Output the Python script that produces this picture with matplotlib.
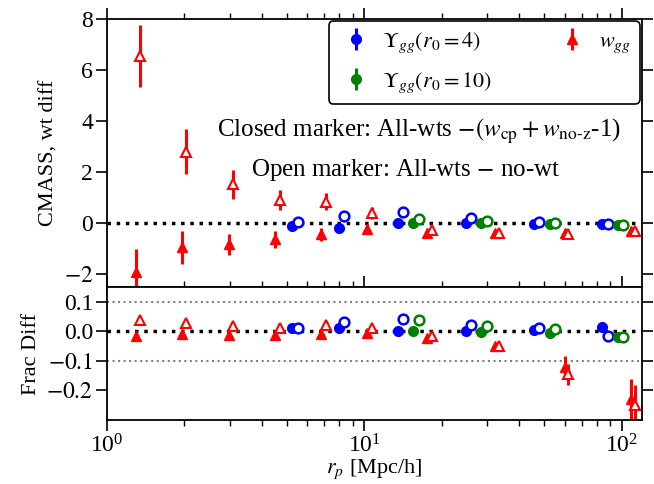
import matplotlib
matplotlib.use('Agg')
import matplotlib.pyplot as plt
from matplotlib.ticker import LogLocator, NullFormatter

plt.rcParams['font.family'] = ['Liberation Serif', 'DejaVu Serif']
plt.rcParams['mathtext.fontset'] = 'stix'

# w_gg: closed (All-wts - (wcp+wnoz-1)) and open (All-wts - no-wt)
wgg_rp_c = [1.30, 1.96, 2.98, 4.49, 6.78, 10.2, 17.6, 32.1, 60.0, 109.0]
wgg_rp_o = [1.34, 2.03, 3.08, 4.70, 7.10, 10.7, 18.3, 33.3, 62.0, 113.0]
wgg_c = [-1.9, -0.94, -0.83, -0.63, -0.43, -0.23, -0.38, -0.40, -0.38, -0.30]
wgg_c_err = [0.9, 0.65, 0.40, 0.33, 0.25, 0.20, 0.10, 0.06, 0.06, 0.05]
wgg_o = [6.55, 2.8, 1.53, 0.90, 0.85, 0.40, -0.28, -0.40, -0.42, -0.30]
wgg_o_err = [1.2, 0.88, 0.57, 0.40, 0.35, 0.25, 0.12, 0.08, 0.06, 0.05]
wgg_frac_c = [-0.017, -0.01, -0.013, -0.013, -0.01, -0.007, -0.024, -0.05, -0.12, -0.23]
wgg_frac_c_err = [0.004, 0.004, 0.004, 0.004, 0.004, 0.004, 0.005, 0.008, 0.035, 0.07]
wgg_frac_o = [0.04, 0.027, 0.017, 0.013, 0.02, 0.01, -0.017, -0.05, -0.145, -0.25]
wgg_frac_o_err = [0.004, 0.004, 0.004, 0.004, 0.004, 0.004, 0.005, 0.008, 0.035, 0.07]

# Upsilon_gg (r0=4)
u4_rp_c = [5.23, 7.95, 13.5, 24.8, 45.5, 83.6]
u4_rp_o = [5.52, 8.33, 14.2, 26.1, 47.9, 88.3]
u4_c = [-0.12, -0.20, 0.0, 0.0, -0.03, -0.03]
u4_o = [0.05, 0.30, 0.45, 0.20, 0.05, -0.05]
u4_frac_c = [0.01, 0.013, 0.0, 0.0, 0.003, 0.014]
u4_frac_o = [0.01, 0.03, 0.043, 0.023, 0.013, -0.017]

# Upsilon_gg (r0=10)
u10_rp_c = [15.5, 28.3, 52.5, 96.5]
u10_rp_o = [16.3, 29.9, 55.0, 101.0]
u10_c = [0.0, 0.0, -0.03, -0.06]
u10_o = [0.15, 0.07, 0.02, -0.06]
u10_frac_c = [0.0, -0.003, -0.007, -0.02]
u10_frac_o = [0.04, 0.017, 0.007, -0.02]

fig = plt.figure(figsize=(6.54, 4.84), dpi=100)
ax1 = fig.add_axes([0.1636, 0.407, 0.8180, 0.5537])
ax2 = fig.add_axes([0.1636, 0.1322, 0.8180, 0.2748], sharex=ax1)

ms = 7
kw = dict(ls='none', elinewidth=2.2, capsize=0)

# top panel
ax1.errorbar(u4_rp_c, u4_c, yerr=0.01, marker='o', color='blue', ms=ms, label=r'$\Upsilon_{gg}(r_0=4)$', **kw)
ax1.errorbar(u4_rp_o, u4_o, yerr=0.01, marker='o', color='blue', ms=ms, mfc='white', mew=1.8, **kw)
ax1.errorbar(u10_rp_c, u10_c, yerr=0.01, marker='o', color='green', ms=ms, label=r'$\Upsilon_{gg}(r_0=10)$', **kw)
ax1.errorbar(u10_rp_o, u10_o, yerr=0.01, marker='o', color='green', ms=ms, mfc='white', mew=1.8, **kw)
ax1.errorbar(wgg_rp_c, wgg_c, yerr=wgg_c_err, marker='^', color='red', ms=ms, label=r'$w_{gg}$', **kw)
ax1.errorbar(wgg_rp_o, wgg_o, yerr=wgg_o_err, marker='^', color='red', ms=ms, mfc='white', mew=1.5, **kw)
ax1.axhline(0, color='black', ls=':', lw=2.5, zorder=0)

ax1.set_xscale('log')
ax1.set_xlim(1, 120)
ax1.set_ylim(-2.5, 8)
ax1.set_yticks([-2, 0, 2, 4, 6, 8])
ax1.set_yticklabels([r'$-2$', '0', '2', '4', '6', '8'])
ax1.set_ylabel('CMASS, wt diff', fontsize=16)
ax1.tick_params(labelbottom=False)

ax1.text(0.583, 0.582, r'Closed marker: All-wts $-(w_{\rm cp}+w_{\rm no\text{-}z}$-1)',
         transform=ax1.transAxes, ha='center', va='center', fontsize=18)
ax1.text(0.559, 0.437, r'Open marker: All-wts $-$ no-wt',
         transform=ax1.transAxes, ha='center', va='center', fontsize=18)

leg = ax1.legend(loc='upper right', ncol=2, fontsize=16, frameon=True, fancybox=True,
                 edgecolor='black', framealpha=1, handletextpad=0.4, columnspacing=2.8,
                 borderaxespad=0.1, handlelength=1.6, labelspacing=0.7)
leg.get_frame().set_linewidth(1.2)

# bottom panel
ax2.errorbar(u4_rp_c, u4_frac_c, yerr=0.001, marker='o', color='blue', ms=ms, **kw)
ax2.errorbar(u4_rp_o, u4_frac_o, yerr=0.001, marker='o', color='blue', ms=ms, mfc='white', mew=1.8, **kw)
ax2.errorbar(u10_rp_c, u10_frac_c, yerr=0.001, marker='o', color='green', ms=ms, **kw)
ax2.errorbar(u10_rp_o, u10_frac_o, yerr=0.001, marker='o', color='green', ms=ms, mfc='white', mew=1.8, **kw)
ax2.errorbar(wgg_rp_c, wgg_frac_c, yerr=wgg_frac_c_err, marker='^', color='red', ms=ms, **kw)
ax2.errorbar(wgg_rp_o, wgg_frac_o, yerr=wgg_frac_o_err, marker='^', color='red', ms=ms, mfc='white', mew=1.5, **kw)
ax2.axhline(0, color='black', ls=':', lw=2.5, zorder=0)
ax2.axhline(0.1, color='grey', ls=':', lw=1.5, zorder=0)
ax2.axhline(-0.1, color='grey', ls=':', lw=1.5, zorder=0)

ax2.set_ylim(-0.3, 0.15)
ax2.set_yticks([-0.2, -0.1, 0.0, 0.1])
ax2.set_yticklabels([r'$-0.2$', r'$-0.1$', '0.0', '0.1'])
ax2.set_ylabel('Frac Diff', fontsize=16)
ax2.set_xlabel(r'$r_p$ [Mpc/h]', fontsize=16, labelpad=0)

for ax in (ax1, ax2):
    ax.xaxis.set_major_locator(LogLocator(base=10))
    ax.xaxis.set_minor_locator(LogLocator(base=10, subs=range(2, 10)))
    ax.xaxis.set_minor_formatter(NullFormatter())
    ax.tick_params(which='both', direction='out', top=True, right=True, labelsize=17, pad=2)
    ax.tick_params(which='major', length=8, width=1.2)
    ax.tick_params(which='minor', length=4.5, width=1)
    for s in ax.spines.values():
        s.set_linewidth(1.3)

fig.savefig('out.png', dpi=100)
